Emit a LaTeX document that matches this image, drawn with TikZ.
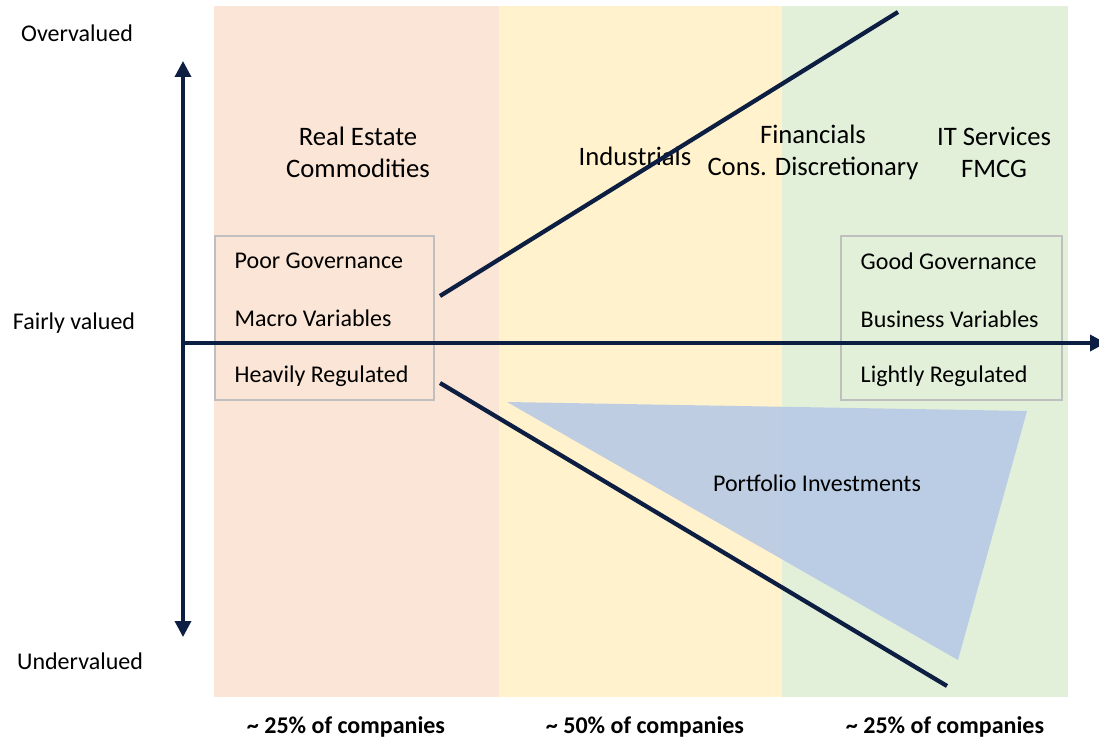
\documentclass[tikz,border=0pt]{standalone}
\usepackage{fontspec}
\setmainfont{Carlito}
\definecolor{bandred}{RGB}{251, 229, 214}
\definecolor{bandyellow}{RGB}{255, 242, 204}
\definecolor{bandgreen}{RGB}{226, 240, 217}
\definecolor{axisnavy}{RGB}{12, 30, 66}
\definecolor{pfblue}{RGB}{180, 199, 231}
\definecolor{boxgray}{RGB}{191, 191, 191}
\usetikzlibrary{arrows.meta}

\begin{document}
\begin{tikzpicture}[x=0.75pt, y=-0.75pt,
    lbl/.style={font=\fontsize{18}{22}\selectfont},
    head/.style={font=\fontsize{20}{24}\selectfont, align=center},
    share/.style={font=\fontsize{18}{22}\selectfont\bfseries},
    axis/.style={axisnavy, line width=2.6pt},
    trend/.style={axisnavy, line width=3.2pt}]
                    \useasboundingbox (0, 0) rectangle (1099, 741);
                    % sector bands
                    \fill[bandred] (214, 6) rectangle (499, 697);
                    \fill[bandyellow] (499, 6) rectangle (782, 697);
                    \fill[bandgreen] (782, 6) rectangle (1068, 697);
                    % portfolio wedge
                    \fill[pfblue, opacity=0.85] (507, 402) -- (1027, 411) -- (958, 660) -- cycle;
                    \node[lbl] (portfolio) at (817, 483) {Portfolio Investments};
                    % governance boxes
                    \draw[boxgray, line width=1.1pt] (215, 236) rectangle (434, 400);
                    \draw[boxgray, line width=1.1pt] (841, 236) rectangle (1062, 400);
                    \node[lbl, anchor=west] (poorgov) at (230, 261) {Poor Governance};
                    \node[lbl, anchor=west] (macro) at (230, 318) {Macro Variables};
                    \node[lbl, anchor=west] (heavy) at (230, 376) {Heavily Regulated};
                    \node[lbl, anchor=west] (goodgov) at (856, 261) {Good Governance};
                    \node[lbl, anchor=west] (business) at (856, 319) {Business Variables};
                    \node[lbl, anchor=west] (light) at (856, 376) {Lightly Regulated};
                    % sectors
                    \node[head] (realestate) at (358, 152) {Real Estate\\Commodities};
                    \node[head] (industrials) at (635, 156) {Industrials};
                    \node[head] (financials) at (813, 152) {Financials\\Cons. Discretionary};
                    \node[head] (itservices) at (994, 152) {IT Services\\FMCG};
                    % axes
                    \draw[axis, {Triangle[length=12pt, width=12pt]}-{Triangle[length=12pt, width=12pt]}] (183, 61) -- (183, 637);
                    \draw[axis, -{Triangle[length=12pt, width=12pt]}] (183, 343) -- (1106, 343);
                    \node[lbl] (over) at (77, 33) {Overvalued};
                    \node[lbl] (fair) at (74, 323) {Fairly valued};
                    \node[lbl] (under) at (80, 661) {Undervalued};
                    % valuation lines
                    \draw[trend] (440, 296) -- (898, 12);
                    \draw[trend] (440, 383) -- (947, 686);
                    % shares of companies
                    \node[share] (shareA) at (346, 727) {\textasciitilde{} 25\% of companies};
                    \node[share] (shareB) at (645, 727) {\textasciitilde{} 50\% of companies};
                    \node[share] (shareC) at (945, 727) {\textasciitilde{} 25\% of companies};
                \end{tikzpicture}
\end{document}
